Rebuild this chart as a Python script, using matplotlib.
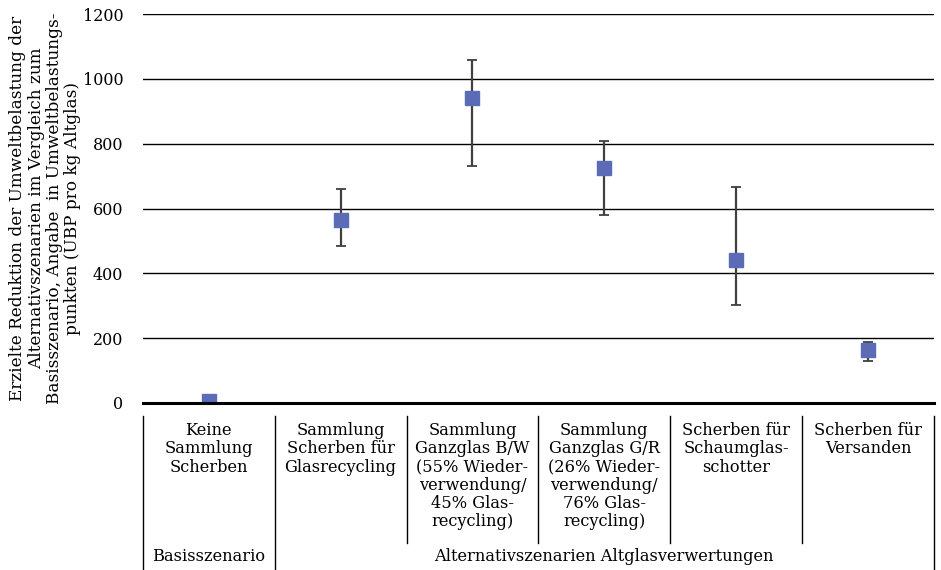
import numpy as np
import matplotlib.pyplot as plt
from matplotlib.transforms import blended_transform_factory

plt.rcParams['font.family'] = ['DejaVu Serif']

# Werte (UBP pro kg Altglas)
szenarien = [
    "Keine\nSammlung\nScherben",
    "Sammlung\nScherben für\nGlasrecycling",
    "Sammlung\nGanzglas B/W\n(55% Wieder-\nverwendung/\n45% Glas-\nrecycling)",
    "Sammlung\nGanzglas G/R\n(26% Wieder-\nverwendung/\n76% Glas-\nrecycling)",
    "Scherben für\nSchaumglas-\nschotter",
    "Scherben für\nVersanden",
]
werte = [5, 565, 940, 724, 440, 163]
fehler_oben = [0, 95, 119, 85, 227, 24]
fehler_unten = [0, 80, 208, 144, 137, 33]
gruppen = ["Basisszenario", "Alternativszenarien Altglasverwertungen"]
gruppen_anzahl = [1, 5]
y_ticks = [0, 200, 400, 600, 800, 1000, 1200]

fig = plt.figure(figsize=(9.41, 5.70), dpi=100)
ax = fig.add_axes([0.1517, 0.293, 0.8409, 0.6823])

x = np.arange(len(werte))
ax.errorbar(x, werte, yerr=[fehler_unten, fehler_oben], fmt='s', color='#5B6BB5',
            markersize=9.5, ecolor='#404040', elinewidth=1.6, capsize=3.5,
            capthick=1.3, zorder=3)

ax.set_xlim(-0.5, len(werte) - 0.5)
ax.set_ylim(0, 1200)
ax.set_yticks(y_ticks)
ax.tick_params(axis='y', length=0, pad=14, labelsize=11.5)
ax.set_xticks([])
ax.yaxis.grid(True, color='black', linewidth=1.0)
ax.set_axisbelow(True)
for s in ['top', 'right', 'left']:
    ax.spines[s].set_visible(False)
ax.spines['bottom'].set_linewidth(2.2)
ax.spines['bottom'].set_zorder(4)

ax.set_ylabel("Erzielte Reduktion der Umweltbelastung der\n"
              "Alternativszenarien im Vergleich zum\n"
              "Basisszenario, Angabe  in Umweltbelastungs-\n"
              "punkten (UBP pro kg Altglas)",
              fontsize=12.2, linespacing=1.1, labelpad=1)

trans = blended_transform_factory(ax.transData, ax.transAxes)
ax_h = 0.6823 * 570

def ay(px):
    # Pixelabstand unter der x-Achse in Achsenkoordinaten
    return -px / ax_h

for i, lab in enumerate(szenarien):
    ax.text(i, ay(19), lab, transform=trans, ha='center', va='top',
            fontsize=11.7, linespacing=1.1)

# Trennlinien der Kategorien
grenzen_gruppe = np.cumsum([0] + gruppen_anzahl) - 0.5
for b in np.arange(len(werte) + 1) - 0.5:
    unten = ay(167) if b in grenzen_gruppe else ay(140)
    ax.plot([b, b], [ay(13), unten], transform=trans, color='black',
            linewidth=1.0, clip_on=False)

start = -0.5
for g, n in zip(gruppen, gruppen_anzahl):
    ax.text(start + n / 2, ay(154), g, transform=trans, ha='center',
            va='center', fontsize=11.7)
    start += n

fig.savefig("out.png", dpi=100)
